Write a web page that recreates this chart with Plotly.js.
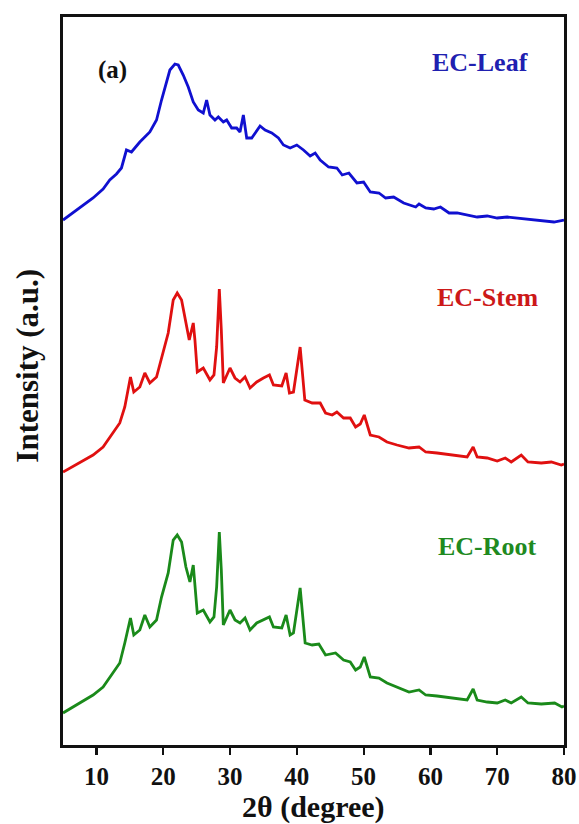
<!DOCTYPE html>
<html>
<head>
<meta charset="utf-8">
<script src="https://cdn.plot.ly/plotly-3.0.1.min.js"></script>
<style>html,body{margin:0;padding:0;background:#fff;}#chart{width:579px;height:824px;}</style>
</head>
<body>
<div id="chart"></div>
<script>
// 2θ positions and intensities (a.u., stacked)
var leafX = [5, 7.5, 9.5, 11, 12, 13, 13.75, 14.5, 15.25, 16.5, 18, 19, 19.75, 21, 21.75, 22.25, 23, 23.75, 24.5, 25.25, 26, 26.5, 27, 27.75, 28.25, 29, 29.5, 30.25, 31, 31.5, 32, 32.5, 33.25, 34.5, 35.25, 36.25, 37.25, 38, 39, 40, 41, 42, 42.75, 43.5, 44.75, 46, 46.8, 47.8, 49, 50, 51, 52.3, 53.3, 54.5, 56, 57.8, 58.3, 59.3, 60.5, 61.5, 62.8, 64, 65.5, 67, 68.5, 70, 71.5, 73, 75, 77, 78.5, 80];
var leafY = [525, 537, 547, 556, 565, 571, 577, 595, 593, 603, 613, 625, 645, 675, 681, 680, 670, 658, 643, 635, 632, 645, 630, 625, 628, 623, 625, 617, 617, 613, 630, 607, 607, 619, 615, 612, 607, 600, 597, 600, 595, 589, 592, 585, 578, 577, 570, 572, 562, 563, 553, 552, 547, 548, 542, 538, 541, 537, 536, 538, 532, 532, 530, 528, 529, 527, 528, 527, 526, 524, 523, 525];

var stemX = [5, 7.5, 9.5, 11, 12.25, 13.5, 14.25, 15.1, 15.6, 16.5, 17.25, 18, 19, 19.75, 20.75, 21.5, 22.1, 22.75, 23.4, 23.9, 24.5, 24.75, 25.1, 26, 27, 27.6, 28, 28.4, 28.7, 29, 30, 30.75, 31.5, 32.25, 33, 34, 35, 35.9, 36.5, 37.75, 38.4, 38.9, 39.5, 40.5, 41.2, 42.3, 43.5, 44.3, 45.3, 46, 47, 48, 48.8, 49.5, 50.1, 51, 52.3, 53.5, 55, 56.8, 58.3, 59.3, 61, 63, 65.5, 66.4, 67, 68.5, 70, 71.2, 72.1, 73.6, 74.6, 76.6, 78.1, 79.6, 80];
var stemY = [273, 282, 290, 298, 310, 322, 338, 368, 353, 358, 372, 362, 368, 388, 412, 445, 452, 445, 422, 405, 422, 405, 373, 377, 365, 370, 398, 456, 415, 362, 377, 367, 363, 368, 357, 363, 367, 370, 360, 359, 372, 352, 353, 398, 345, 342, 342, 332, 330, 333, 327, 327, 318, 321, 330, 310, 308, 303, 300, 297, 298, 293, 292, 290, 288, 298, 288, 287, 284, 287, 283, 290, 283, 282, 283, 280, 281];

var rootX = [5, 7.5, 9.5, 11, 12.5, 13.5, 14.25, 15.1, 15.6, 16.5, 17.25, 18, 19, 19.75, 20.75, 21.5, 22.1, 22.75, 23.4, 24, 24.5, 24.75, 25.1, 26, 27, 27.6, 28, 28.4, 28.7, 29, 30, 30.75, 31.5, 32.25, 33, 34, 35, 35.9, 36.5, 37.75, 38.4, 39, 39.5, 40.5, 41.25, 42.3, 43.3, 44.3, 45.8, 47, 48, 48.8, 49.5, 50.1, 51, 52.3, 53.5, 55, 56.8, 58.3, 59.3, 61, 63, 65.5, 66.4, 67, 68.5, 70, 71.2, 72.1, 73.6, 74.6, 76.6, 78.6, 79.7, 80];
var rootY = [32, 42, 50, 58, 72, 82, 102, 127, 110, 115, 130, 118, 125, 148, 172, 205, 210, 203, 178, 163, 180, 162, 132, 135, 123, 128, 158, 213, 175, 120, 135, 125, 122, 127, 115, 122, 125, 128, 118, 117, 130, 110, 112, 157, 102, 100, 101, 90, 92, 85, 83, 75, 78, 88, 68, 67, 62, 58, 53, 55, 50, 49, 47, 45, 56, 45, 43, 42, 45, 42, 48, 42, 41, 42, 38, 39];

var seriesNames = ["EC-Leaf", "EC-Stem", "EC-Root"];
var xTicks = [10, 20, 30, 40, 50, 60, 70, 80];

var lineColors = ["#1010d0", "#e01010", "#1a8a1a"];
var textColors = ["#2020b0", "#cc1818", "#1f8a1f"];

var traces = [
  {x: leafX, y: leafY, name: seriesNames[0]},
  {x: stemX, y: stemY, name: seriesNames[1]},
  {x: rootX, y: rootY, name: seriesNames[2]}
].map(function (t, i) {
  t.type = "scatter";
  t.mode = "lines";
  t.line = {color: lineColors[i], width: 2.8, shape: "linear"};
  t.showlegend = false;
  t.hoverinfo = "skip";
  return t;
});

var serif = "Liberation Serif, Times New Roman, serif";
var labelPos = [[0.832, 0.937], [0.848, 0.615], [0.848, 0.273]];
var annotations = seriesNames.map(function (n, i) {
  return {
    text: "<b>" + n + "</b>", xref: "paper", yref: "paper",
    x: labelPos[i][0], y: labelPos[i][1], xanchor: "center", yanchor: "middle",
    showarrow: false, font: {family: serif, size: 26, color: textColors[i]}
  };
});
annotations.push({
  text: "<b>(a)</b>", xref: "paper", yref: "paper", x: 0.098, y: 0.927,
  xanchor: "center", yanchor: "middle", showarrow: false,
  font: {family: serif, size: 25, color: "#111"}
});
// axis titles placed as annotations to match their positions in the reference
annotations.push({
  text: "<b>Intensity (a.u.)</b>", xref: "paper", yref: "paper", x: -0.07, y: 0.521,
  xanchor: "center", yanchor: "middle", textangle: -90, showarrow: false,
  font: {family: serif, size: 31, color: "#111"}
});
annotations.push({
  text: "<b>2θ (degree)</b>", xref: "paper", yref: "paper", x: 0.5, y: -0.085,
  xanchor: "center", yanchor: "middle", showarrow: false,
  font: {family: serif, size: 30, color: "#111"}
});

var layout = {
  width: 579, height: 824,
  margin: {l: 63, r: 15, t: 17, b: 79, pad: 0},
  paper_bgcolor: "#fff", plot_bgcolor: "#fff",
  showlegend: false,
  xaxis: {
    range: [5, 80], tickmode: "array", tickvals: xTicks,
    ticktext: xTicks.map(function (v) { return "<b>" + v + "</b>"; }),
    ticks: "outside", ticklen: 7, tickwidth: 2.2, tickcolor: "#111",
    showline: true, linewidth: 2.6, linecolor: "#111", mirror: true,
    showgrid: false, zeroline: false,
    tickfont: {family: serif, size: 25, color: "#111"}
  },
  yaxis: {
    range: [0, 728], showticklabels: false, ticks: "",
    showline: true, linewidth: 2.6, linecolor: "#111", mirror: true,
    showgrid: false, zeroline: false
  },
  annotations: annotations
};

Plotly.newPlot("chart", traces, layout, {displayModeBar: false, staticPlot: true});
</script>
</body>
</html>
